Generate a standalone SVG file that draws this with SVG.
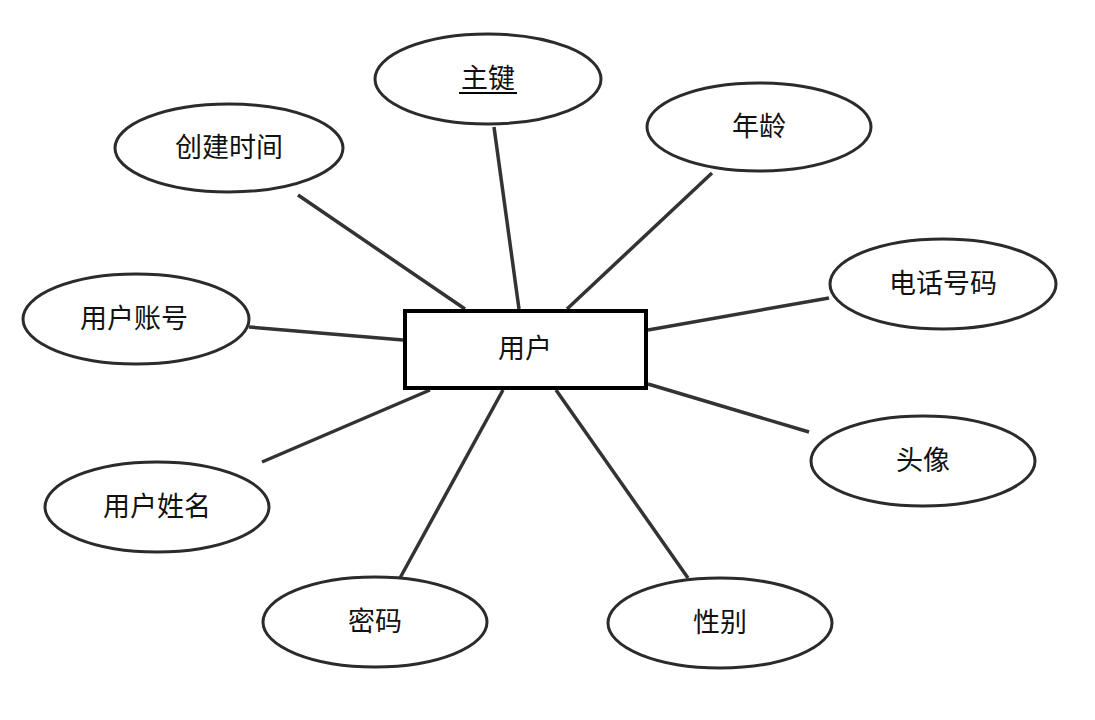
<svg xmlns="http://www.w3.org/2000/svg" width="1095" height="720" viewBox="0 0 1095 720">
<style>
.attr ellipse{fill:#fff;stroke:#2b2b2b;stroke-width:3}
.ent rect{fill:#fff;stroke:#000;stroke-width:4}
text{font-family:"Liberation Sans","Noto Sans CJK SC",sans-serif;font-size:27px;fill:#111;text-anchor:middle;dominant-baseline:central}
#connectors line{stroke:#333;stroke-width:3.5}
</style>
<rect width="1095" height="720" fill="#fff"/>
<g id="connectors">
<line x1="494" y1="127" x2="519" y2="309"/>
<line x1="298" y1="195" x2="465" y2="309"/>
<line x1="712" y1="173" x2="567" y2="309"/>
<line x1="829" y1="298" x2="648" y2="330"/>
<line x1="249" y1="327" x2="403" y2="340"/>
<line x1="809" y1="432" x2="648" y2="384"/>
<line x1="262" y1="462" x2="430" y2="390"/>
<line x1="400" y1="578" x2="503" y2="390"/>
<line x1="688" y1="578" x2="556" y2="390"/>
</g>
<g id="user" class="ent"><rect x="405" y="311" width="241" height="77"/><text x="525" y="349">用户</text></g>
<g id="pk" class="attr"><ellipse cx="488" cy="79" rx="113" ry="45"/><text x="488" y="79">主键</text><line x1="459" y1="93" x2="517" y2="93" stroke="#000" stroke-width="2"/></g>
<g id="ctime" class="attr"><ellipse cx="229" cy="148" rx="114" ry="44"/><text x="229" y="148">创建时间</text></g>
<g id="age" class="attr"><ellipse cx="759" cy="127" rx="112" ry="44"/><text x="759" y="127">年龄</text></g>
<g id="phone" class="attr"><ellipse cx="943" cy="284" rx="113" ry="45"/><text x="943" y="284">电话号码</text></g>
<g id="account" class="attr"><ellipse cx="136" cy="319" rx="113" ry="45"/><text x="134" y="319">用户账号</text></g>
<g id="avatar" class="attr"><ellipse cx="923" cy="461" rx="112" ry="45"/><text x="923" y="461">头像</text></g>
<g id="name" class="attr"><ellipse cx="157" cy="507" rx="112" ry="45"/><text x="157" y="507">用户姓名</text></g>
<g id="pwd" class="attr"><ellipse cx="375" cy="622" rx="112" ry="45"/><text x="375" y="622">密码</text></g>
<g id="gender" class="attr"><ellipse cx="720" cy="623" rx="112" ry="45"/><text x="720" y="623">性别</text></g>
</svg>
